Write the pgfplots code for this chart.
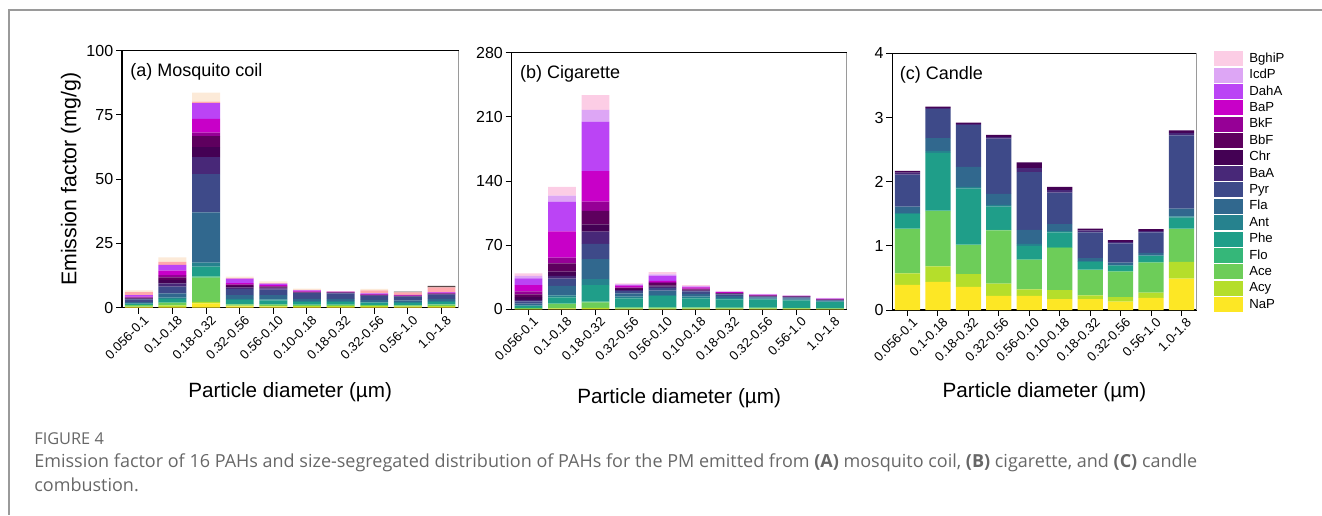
\documentclass[border=0pt]{standalone}
\usepackage{pgfplots}
\pgfplotsset{compat=1.18}
\usepackage{pgfplotstable}
\usepackage{fontspec}
\setmainfont{Liberation Sans}
\newfontfamily\capfont{Open Sans}

\definecolor{cNaP}{HTML}{FDE725}
\definecolor{cAcy}{HTML}{B5DE2B}
\definecolor{cAce}{HTML}{6DCD59}
\definecolor{cFlo}{HTML}{35B779}
\definecolor{cPhe}{HTML}{1F9E89}
\definecolor{cAnt}{HTML}{26828E}
\definecolor{cFla}{HTML}{31688E}
\definecolor{cPyr}{HTML}{3E4A89}
\definecolor{cBaA}{HTML}{482878}
\definecolor{cChr}{HTML}{440154}
\definecolor{cBbF}{HTML}{5E005E}
\definecolor{cBkF}{HTML}{960096}
\definecolor{cBaP}{HTML}{C800C8}
\definecolor{cDahA}{HTML}{BB44F5}
\definecolor{cIcdP}{HTML}{DDA6F5}
\definecolor{cBghiP}{HTML}{FCCDE5}
\definecolor{aIcdP}{HTML}{FFA8AC}
\definecolor{aBghiP}{HTML}{FCEAD8}
\definecolor{aExt}{HTML}{5A4848}
\definecolor{capgray}{HTML}{676767}
\definecolor{framegray}{HTML}{9A9A9A}

\pgfplotstableread{
x NaP Acy Ace Flo Phe Ant Fla Pyr BaA Chr BbF BkF BaP DahA IcdP BghiP Ext
0 0.2 0.2 0.6 0.1 0.4 0.2 0.5 1.0 0.3 0.2 0.2 0.1 0.3 0.6 1.2 0.6 0
1 0.3 0.6 1.0 0.2 1.3 0.5 1.7 2.6 1.3 1.3 1.0 0.9 1.7 2.3 1.1 1.8 0
2 1.7 0.6 9.4 0.5 3.8 1.5 19.6 14.9 6.6 3.9 4.3 1.3 5.4 6.1 0.6 3.5 0
3 0.5 0.3 0.5 0.2 1.5 0.4 1.5 2.3 0.6 0.6 0.5 0.2 0.5 1.7 0.2 0.6 0
4 0.4 0.3 0.5 0.2 1.4 0.4 1.7 2.1 0.5 0.4 0.3 0.2 0.4 0.6 0.2 0.6 0
5 0.3 0.3 0.5 0.1 1.0 0.4 0.8 2.3 0.2 0.1 0.1 0.1 0.3 0.2 0.2 0.5 0
6 0.3 0.3 0.5 0.1 1.0 0.4 0.8 2.2 0.2 0.1 0.1 0.0 0.1 0.1 0.2 0.0 0
7 0.3 0.3 0.4 0.1 0.9 0.3 0.7 1.6 0.2 0.1 0.1 0.1 0.2 0.3 1.1 0.6 0
8 0.3 0.2 0.4 0.1 0.9 0.3 0.6 1.5 0.1 0.1 0.1 0.1 0.2 0.1 1.0 0.0 0.2
9 0.3 0.3 0.6 0.1 1.0 0.3 0.8 1.7 0.2 0.1 0.1 0.1 0.3 0.2 1.8 0.0 0.6
}\tabA

\pgfplotstableread{
x NaP Acy Ace Flo Phe Ant Fla Pyr BaA Chr BbF BkF BaP DahA IcdP BghiP
0 0.3 0.3 0.7 0.3 2.0 0.8 1.8 2.5 1.5 3.0 3.0 3.3 7.0 7.3 2.6 2.9
1 0.4 0.7 4.7 0.8 6.5 2.2 10.2 8.0 2.9 4.7 9.1 6.2 28.7 32.4 6.5 9.5
2 0.6 0.9 6.1 0.8 18.1 6.6 21.8 16.4 13.4 8.0 14.6 10.2 33.4 53.8 12.8 16.3
3 0.3 0.5 1.2 0.5 9.5 1.8 3.5 2.5 1.2 1.0 1.2 0.8 1.8 0.8 0.6 1.2
4 0.3 0.5 1.0 0.5 12.0 1.3 4.8 2.8 1.5 1.5 2.5 1.0 1.4 5.6 1.5 2.5
5 0.3 0.5 1.0 0.4 9.8 1.8 3.0 2.8 0.8 0.7 0.8 0.7 1.3 0.8 0.4 1.4
6 0.3 0.4 0.8 0.3 9.0 1.5 2.0 2.0 0.5 0.5 0.5 0.3 0.6 0.4 0.3 0.8
7 0.3 0.4 0.8 0.3 9.0 1.0 1.2 1.0 0.3 0.3 0.3 0.2 0.6 0.4 0.2 0.5
8 0.3 0.4 0.7 0.3 8.0 1.0 1.2 1.2 0.4 0.4 0.3 0.1 0.2 0.2 0.3 0.6
9 0.2 0.3 0.5 0.3 6.5 0.8 0.8 0.6 0.2 0.2 0.2 0.2 0.6 0.3 0.2 0.6
}\tabB

\pgfplotstableread{
x NaP Acy Ace Flo Phe Ant Fla Pyr BaA Chr BbF BkF BaP DahA IcdP BghiP
0 0.39 0.18 0.69 0.01 0.23 0.01 0.10 0.50 0.03 0.03 0 0 0 0 0 0
1 0.44 0.24 0.86 0.01 0.90 0.03 0.20 0.45 0.02 0.02 0 0 0 0 0 0
2 0.36 0.20 0.45 0.01 0.87 0.03 0.31 0.65 0.02 0.02 0 0 0 0 0 0
3 0.22 0.19 0.83 0.01 0.36 0.03 0.17 0.86 0.03 0.03 0 0 0 0 0 0
4 0.22 0.10 0.46 0.01 0.21 0.03 0.22 0.90 0.06 0.09 0 0 0 0 0 0
5 0.17 0.14 0.66 0.01 0.23 0.02 0.11 0.49 0.04 0.05 0 0 0 0 0 0
6 0.17 0.06 0.39 0.01 0.12 0.01 0.05 0.40 0.03 0.03 0 0 0 0 0 0
7 0.13 0.07 0.40 0.01 0.08 0.01 0.04 0.30 0.02 0.03 0 0 0 0 0 0
8 0.19 0.08 0.47 0.01 0.09 0.01 0.04 0.32 0.02 0.03 0 0 0 0 0 0
9 0.49 0.26 0.51 0.01 0.17 0.02 0.12 1.14 0.04 0.04 0 0 0 0 0 0
}\tabC

\newcommand\stackbars[3]{%
  \addplot[fill=cNaP] table[x=x,y=NaP]{#1};
  \addplot[fill=cAcy] table[x=x,y=Acy]{#1};
  \addplot[fill=cAce] table[x=x,y=Ace]{#1};
  \addplot[fill=cFlo] table[x=x,y=Flo]{#1};
  \addplot[fill=cPhe] table[x=x,y=Phe]{#1};
  \addplot[fill=cAnt] table[x=x,y=Ant]{#1};
  \addplot[fill=cFla] table[x=x,y=Fla]{#1};
  \addplot[fill=cPyr] table[x=x,y=Pyr]{#1};
  \addplot[fill=cBaA] table[x=x,y=BaA]{#1};
  \addplot[fill=cChr] table[x=x,y=Chr]{#1};
  \addplot[fill=cBbF] table[x=x,y=BbF]{#1};
  \addplot[fill=cBkF] table[x=x,y=BkF]{#1};
  \addplot[fill=cBaP] table[x=x,y=BaP]{#1};
  \addplot[fill=cDahA] table[x=x,y=DahA]{#1};
  \addplot[fill=#2] table[x=x,y=IcdP]{#1};
  \addplot[fill=#3] table[x=x,y=BghiP]{#1};
}

\pgfplotsset{
  panel/.style={
    scale only axis,
    ybar stacked, bar width=0.83,
    xmin=-0.5, xmax=9.5, ymin=0,
    xtick={0,...,9},
    xticklabels={0.056-0.1,0.1-0.18,0.18-0.32,0.32-0.56,0.56-0.10,0.10-0.18,0.18-0.32,0.32-0.56,0.56-1.0,1.0-1.8},
    xticklabel style={rotate=45, anchor=east, inner sep=0.5pt, xshift=2pt, yshift=-5pt, font=\fontsize{7.8}{8}\selectfont},
    yticklabel style={font=\fontsize{9.6}{10}\selectfont, inner sep=1.5pt},
    xtick pos=bottom, ytick pos=left,
    tick align=outside, major tick length=3.6pt,
    every tick/.style={black, line width=0.6pt},
    axis line style={black, line width=0.7pt},
    /pgf/number format/assume math mode=true,
    scaled y ticks=false,
    every axis plot/.append style={draw=none},
    xlabel={Particle diameter (µm)},
    xlabel style={font=\fontsize{12.4}{13}\selectfont, anchor=center},
    clip=false,
  }
}

\begin{document}
\begin{tikzpicture}
\useasboundingbox (0,0) rectangle (793.2pt,-309pt);
\draw[framegray, line width=0.9pt] (793.2pt,-6pt) -- (5.4pt,-6pt) -- (5.4pt,-309pt);

% (a)
\begin{axis}[panel, at={(73.2pt,-184.6pt)}, anchor=south west,
  width=201.8pt, height=154.2pt, ymax=100, ytick={0,25,50,75,100},
  xlabel style={at={(axis description cs:0.5,-0.33)}},
  ylabel={Emission factor (mg/g)},
  ylabel style={font=\fontsize{12.8}{13}\selectfont, at={(axis description cs:-0.152,0.5)}, anchor=center, rotate=0},
]
\stackbars{\tabA}{aIcdP}{aBghiP}
\addplot[fill=aExt] table[x=x,y=Ext]{\tabA};
\node[anchor=west, inner sep=0pt, font=\fontsize{10.8}{11}\selectfont] at (rel axis cs:0.024,0.918) {(a) Mosquito coil};
\draw[framegray, line width=0.9pt] (rel axis cs:1,0) -- (rel axis cs:1,1);
\end{axis}

% (b)
\begin{axis}[panel, at={(307.0pt,-185.6pt)}, anchor=south west,
  width=201.0pt, height=154.0pt, ymax=280, ytick={0,70,140,210,280},
  xlabel style={at={(axis description cs:0.5,-0.345)}},
]
\stackbars{\tabB}{cIcdP}{cBghiP}
\node[anchor=west, inner sep=0pt, font=\fontsize{10.8}{11}\selectfont] at (rel axis cs:0.024,0.918) {(b) Cigarette};
\draw[framegray, line width=0.9pt] (rel axis cs:1,0) -- (rel axis cs:1,1);
\end{axis}

% (c)
\begin{axis}[panel, at={(535.4pt,-186pt)}, anchor=south west,
  width=182.6pt, height=154.0pt, ymax=4, ytick={0,1,2,3,4},
  xlabel style={at={(axis description cs:0.5,-0.32)}},
  reverse legend,
  legend style={at={(axis description cs:1.057,1.01)}, anchor=north west,
    draw=none, fill=none, inner sep=0pt, row sep=0.84pt,
    font=\fontsize{7.9}{8}\selectfont,
    nodes={inner sep=0.6pt, text height=5.6pt, text depth=1.2pt}},
  legend cell align=left,
  legend image code/.code={\fill[#1, draw=none] (0pt,-4.5pt) rectangle (17.4pt,4.5pt); \path (20.4pt,0pt);},
]
\stackbars{\tabC}{cIcdP}{cBghiP}
\legend{NaP,Acy,Ace,Flo,Phe,Ant,Fla,Pyr,BaA,Chr,BbF,BkF,BaP,DahA,IcdP,BghiP}
\node[anchor=west, inner sep=0pt, font=\fontsize{10.8}{11}\selectfont] at (rel axis cs:0.024,0.918) {(c) Candle};
\draw[framegray, line width=0.9pt] (rel axis cs:1,0) -- (rel axis cs:1,1);
\end{axis}

% caption
\node[anchor=base west, inner sep=0pt, text=capgray, font=\capfont\fontsize{9.8}{10}\selectfont] at (20.4pt,-266.4pt) {FIGURE 4};
\node[anchor=base west, inner sep=0pt, text=capgray, font=\capfont\fontsize{10.8}{12}\selectfont] at (20.4pt,-280.2pt) {Emission factor of 16 PAHs and size-segregated distribution of PAHs for the PM emitted from \textbf{(A)} mosquito coil, \textbf{(B)} cigarette, and \textbf{(C)} candle};
\node[anchor=base west, inner sep=0pt, text=capgray, font=\capfont\fontsize{10.8}{12}\selectfont] at (20.4pt,-294.6pt) {combustion.};
\end{tikzpicture}
\end{document}
